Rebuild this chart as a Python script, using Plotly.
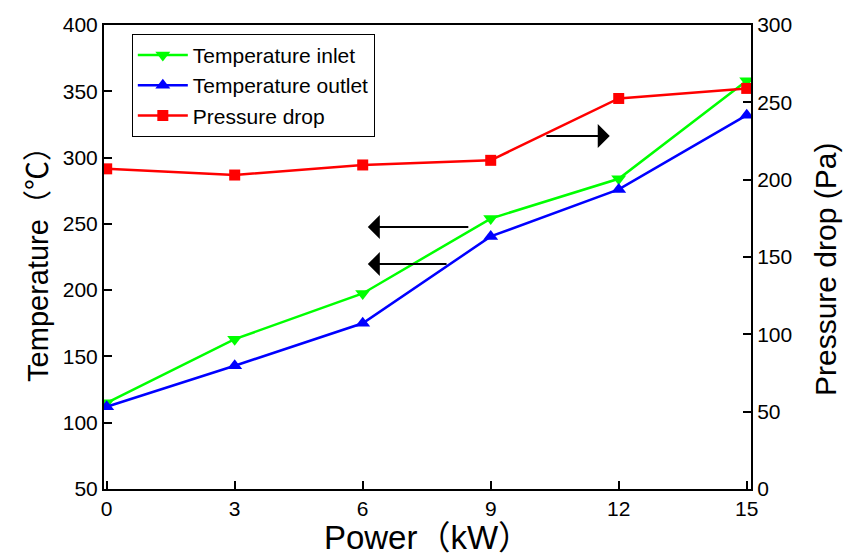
import plotly.graph_objects as go

power = [0, 3, 6, 9, 12, 15]
temp_inlet = [115, 163, 197.5, 254, 284, 358]
temp_outlet = [112, 143, 175, 240.5, 276, 332]
pressure_drop = [207, 203, 209.5, 212.5, 252.5, 259]

# arrows (head x, tail x, y on left axis)
arrow_head_x = [6.12, 6.12, 11.79]
arrow_tail_x = [8.51, 8.0, 10.27]
arrow_y = [247.6, 219.7, 316.3]

FONT = "Arial, 'Liberation Sans', 'Noto Sans CJK SC', sans-serif"

fig = go.Figure()
fig.add_trace(go.Scatter(x=power, y=temp_inlet, mode="lines+markers", name="Temperature inlet",
                         line=dict(color="#00ff00", width=2.5),
                         marker=dict(symbol="triangle-down", size=13, color="#00ff00")))
fig.add_trace(go.Scatter(x=power, y=temp_outlet, mode="lines+markers", name="Temperature outlet",
                         line=dict(color="#0000ff", width=2.5),
                         marker=dict(symbol="triangle-up", size=13, color="#0000ff")))
fig.add_trace(go.Scatter(x=power, y=pressure_drop, mode="lines+markers", name="Pressure drop",
                         yaxis="y2",
                         line=dict(color="#ff0000", width=2.5),
                         marker=dict(symbol="square", size=11, color="#ff0000")))

for hx, tx, yy in zip(arrow_head_x, arrow_tail_x, arrow_y):
    fig.add_annotation(x=hx, y=yy, ax=tx, ay=yy, xref="x", yref="y", axref="x", ayref="y",
                       text="", showarrow=True, arrowhead=1, arrowsize=2, arrowwidth=2,
                       arrowcolor="black", standoff=0, startstandoff=0)

# right axis title placed as a paper annotation (slightly below axis centre, as in the reference)
fig.add_annotation(text="Pressure drop (Pa)", xref="paper", yref="paper", x=1.116, y=0.472,
                   xanchor="center", yanchor="middle", textangle=-90, showarrow=False,
                   font=dict(family=FONT, size=30, color="black"))

axis_common = dict(showline=True, linecolor="black", linewidth=2, ticks="inside",
                   ticklen=8, tickwidth=2, tickcolor="black", showgrid=False, zeroline=False,
                   automargin=False,
                   tickfont=dict(family=FONT, size=21, color="black"))

fig.update_layout(
    width=844, height=556,
    margin=dict(l=104, r=93, t=25, b=67, autoexpand=False),
    paper_bgcolor="white", plot_bgcolor="white",
    font=dict(family=FONT, color="black"),
    xaxis=dict(range=[-0.063, 15.1], tickvals=power, mirror=True,
               title=dict(text="Power（kW）", font=dict(family=FONT, size=33), standoff=2),
               **axis_common),
    yaxis=dict(range=[50, 400], dtick=50, tick0=50,
               title=dict(text="Temperature（℃）", font=dict(family=FONT, size=29), standoff=6),
               **axis_common),
    yaxis2=dict(range=[0, 300], dtick=50, tick0=0, overlaying="y", side="right",
                **axis_common),
    legend=dict(x=0.043, y=0.981, xanchor="left", yanchor="top",
                bordercolor="black", borderwidth=1, bgcolor="white",
                font=dict(family=FONT, size=21), tracegroupgap=0, itemwidth=50),
    showlegend=True,
)

fig.write_html("out.html", config={"displayModeBar": False},
               post_script="document.body.style.margin='0';document.body.style.padding='0';")
